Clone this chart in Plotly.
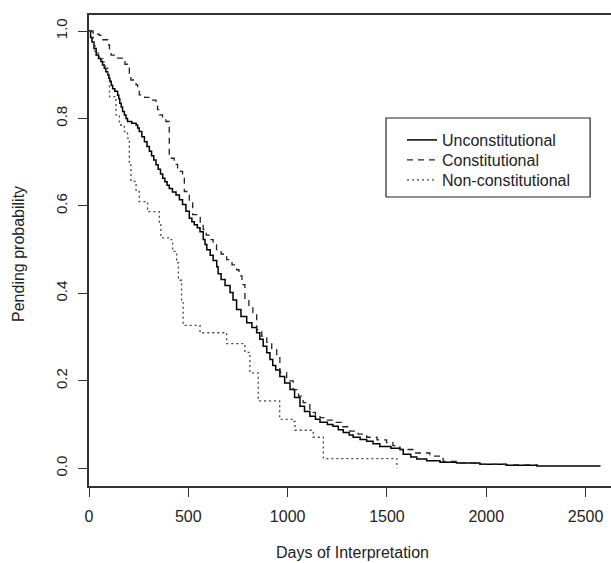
import plotly.graph_objects as go

# ---- data ----
uncon_days = [0, 8, 15, 25, 36, 48, 60, 68, 77, 85, 94, 100, 105, 112, 119, 130, 144, 150, 155, 162,
              169, 178, 186, 194, 215, 237, 245, 253, 266, 279, 292, 304, 315, 326, 337, 348, 360,
              371, 382, 393, 404, 420, 438, 455, 471, 488, 505, 518, 530, 545, 559, 575, 584,
              593, 610, 625, 643, 650, 665, 685, 710, 725, 743, 765, 794, 820, 844, 860, 877, 895,
              911, 925, 940, 961, 985, 1012, 1035, 1062, 1085, 1112, 1140, 1163, 1200, 1228, 1255,
              1280, 1310, 1330, 1365, 1398, 1430, 1464, 1520, 1566, 1582, 1620, 1650, 1700, 1767,
              1850, 1968, 2100, 2254, 2572]
uncon_surv = [1.0, 0.985, 0.975, 0.96, 0.945, 0.937, 0.93, 0.922, 0.915, 0.907, 0.9, 0.892, 0.885,
              0.876, 0.868, 0.862, 0.853, 0.845, 0.835, 0.826, 0.816, 0.808, 0.8, 0.793, 0.789,
              0.785, 0.778, 0.77, 0.758, 0.747, 0.736, 0.725, 0.715, 0.705, 0.694, 0.684, 0.673,
              0.663, 0.655, 0.647, 0.64, 0.632, 0.625, 0.614, 0.603, 0.588, 0.572, 0.564, 0.557,
              0.55, 0.541, 0.523, 0.512, 0.5, 0.487,
              0.475, 0.461, 0.445, 0.432, 0.418, 0.402, 0.385, 0.363, 0.347, 0.333, 0.322, 0.31,
              0.295, 0.279, 0.264, 0.249, 0.235, 0.225, 0.21, 0.195, 0.18, 0.162, 0.142, 0.13,
              0.119, 0.112, 0.105, 0.1, 0.096, 0.088, 0.082, 0.076, 0.071, 0.066, 0.062, 0.056,
              0.05, 0.046, 0.043, 0.032, 0.026, 0.021, 0.017, 0.014, 0.012, 0.009, 0.007, 0.005,
              0.004]

const_days = [0, 20, 35, 52, 70, 94, 103, 111, 140, 169, 181, 194, 203, 211, 237, 245, 253, 280,
              312, 337, 345, 354, 370, 387, 404, 429, 446, 471, 480, 505, 522, 542, 560, 575, 590,
              609, 625, 642, 665, 693, 720, 743, 755, 770, 785, 805, 825, 844, 870, 895, 920, 945,
              961, 995, 1028, 1055, 1078, 1112, 1140, 1163, 1200, 1228, 1270, 1313, 1355, 1398,
              1450, 1498, 1530, 1565, 1640, 1716, 1783, 1870, 1968, 2100, 2260]
const_surv = [1.0, 0.997, 0.993, 0.99, 0.98, 0.968, 0.956, 0.945, 0.938, 0.93, 0.924, 0.915, 0.9,
              0.888, 0.877, 0.866, 0.854, 0.848, 0.842, 0.831, 0.82, 0.808, 0.8, 0.793, 0.709,
              0.695, 0.679, 0.663, 0.633, 0.61, 0.58, 0.574, 0.56, 0.546, 0.533, 0.523, 0.511,
              0.5, 0.49, 0.477, 0.465, 0.454, 0.44, 0.42, 0.386, 0.37, 0.356, 0.317, 0.302, 0.288,
              0.272, 0.256, 0.219, 0.2, 0.18, 0.165, 0.15, 0.128, 0.122, 0.116, 0.11, 0.105,
              0.095, 0.085, 0.078, 0.071, 0.065, 0.059, 0.052, 0.043, 0.035, 0.028, 0.016, 0.012,
              0.009, 0.008, 0.008]

noncon_days = [0, 22, 30, 52, 75, 94, 103, 136, 153, 178, 194, 203, 211, 237, 253, 295, 354, 362,
               404, 421, 441, 450, 466, 474, 559, 693, 785, 810, 852, 960, 1028, 1037, 1129, 1180,
               1550]
noncon_surv = [1.0, 0.97, 0.95, 0.937, 0.92, 0.9, 0.85, 0.808, 0.785, 0.77, 0.755, 0.694, 0.656,
               0.633, 0.61, 0.587, 0.557, 0.527, 0.523, 0.496, 0.47, 0.43, 0.379, 0.327, 0.31,
               0.285, 0.265, 0.218, 0.154, 0.112, 0.107, 0.087, 0.071, 0.022, 0.0]

series_names = ["Unconstitutional", "Constitutional", "Non-constitutional"]
x_ticks = [0, 500, 1000, 1500, 2000, 2500]
y_ticks = [0.0, 0.2, 0.4, 0.6, 0.8, 1.0]
y_tick_labels = ["0.0", "0.2", "0.4", "0.6", "0.8", "1.0"]

FONT = "Liberation Sans, Arial, Helvetica, sans-serif"
TXT = "#222222"

fig = go.Figure()
fig.add_trace(go.Scatter(x=uncon_days, y=uncon_surv, mode="lines", name=series_names[0],
                         legend="legend",
                         line=dict(shape="hv", color="#000000", width=1.5)))
fig.add_trace(go.Scatter(x=const_days, y=const_surv, mode="lines", name=series_names[1],
                         legend="legend2",
                         line=dict(shape="hv", color="#222222", width=1.3, dash="6px,5px")))
fig.add_trace(go.Scatter(x=noncon_days, y=noncon_surv, mode="lines", name=series_names[2],
                         legend="legend3",
                         line=dict(shape="hv", color="#444444", width=1.3, dash="2px,3px")))

def leg(y):
    return dict(x=0.5996, y=y, xanchor="left", yanchor="middle",
                bgcolor="rgba(0,0,0,0)", borderwidth=0,
                font=dict(family=FONT, size=16, color=TXT), itemwidth=30)

fig.update_layout(
    width=611, height=563,
    margin=dict(l=89, r=0, t=15, b=77),
    plot_bgcolor="white", paper_bgcolor="white",
    font=dict(family=FONT, size=15, color=TXT),
    showlegend=True,
    legend=leg(0.7346), legend2=leg(0.6921), legend3=leg(0.6497),
    shapes=[dict(type="rect", xref="paper", yref="paper",
                 x0=0.569, x1=0.960, y0=0.6136, y1=0.7813,
                 line=dict(color="#222222", width=1.2), fillcolor="white", layer="above")],
    annotations=[
        dict(text="Days of Interpretation", xref="paper", yref="paper", x=0.504, y=0,
             yshift=-66, xanchor="center", yanchor="middle", showarrow=False,
             font=dict(family=FONT, size=16, color=TXT)),
        dict(text="Pending probability", xref="paper", yref="paper", x=0, y=0.4926,
             xshift=-70, xanchor="center", yanchor="middle", textangle=-90, showarrow=False,
             font=dict(family=FONT, size=16, color=TXT)),
    ],
)

fig.update_xaxes(range=[0, 2628], tickvals=x_ticks, ticks="outside", ticklen=9, tickwidth=1.3,
                 tickcolor="#333333", showline=True, linecolor="#333333", linewidth=1.5,
                 mirror=True, showgrid=False, zeroline=False, ticklabelstandoff=6,
                 tickfont=dict(family=FONT, size=16, color=TXT))
fig.update_yaxes(range=[-0.0405, 1.0366], tickvals=y_ticks, ticktext=y_tick_labels,
                 ticks="outside", ticklen=9, tickwidth=1.3, tickcolor="#333333",
                 showline=True, linecolor="#333333", linewidth=1.5, mirror=False,
                 showgrid=False, zeroline=False, tickangle=-90, ticklabelstandoff=5,
                 tickfont=dict(family=FONT, size=15, color=TXT))

fig.write_html("out.html")
